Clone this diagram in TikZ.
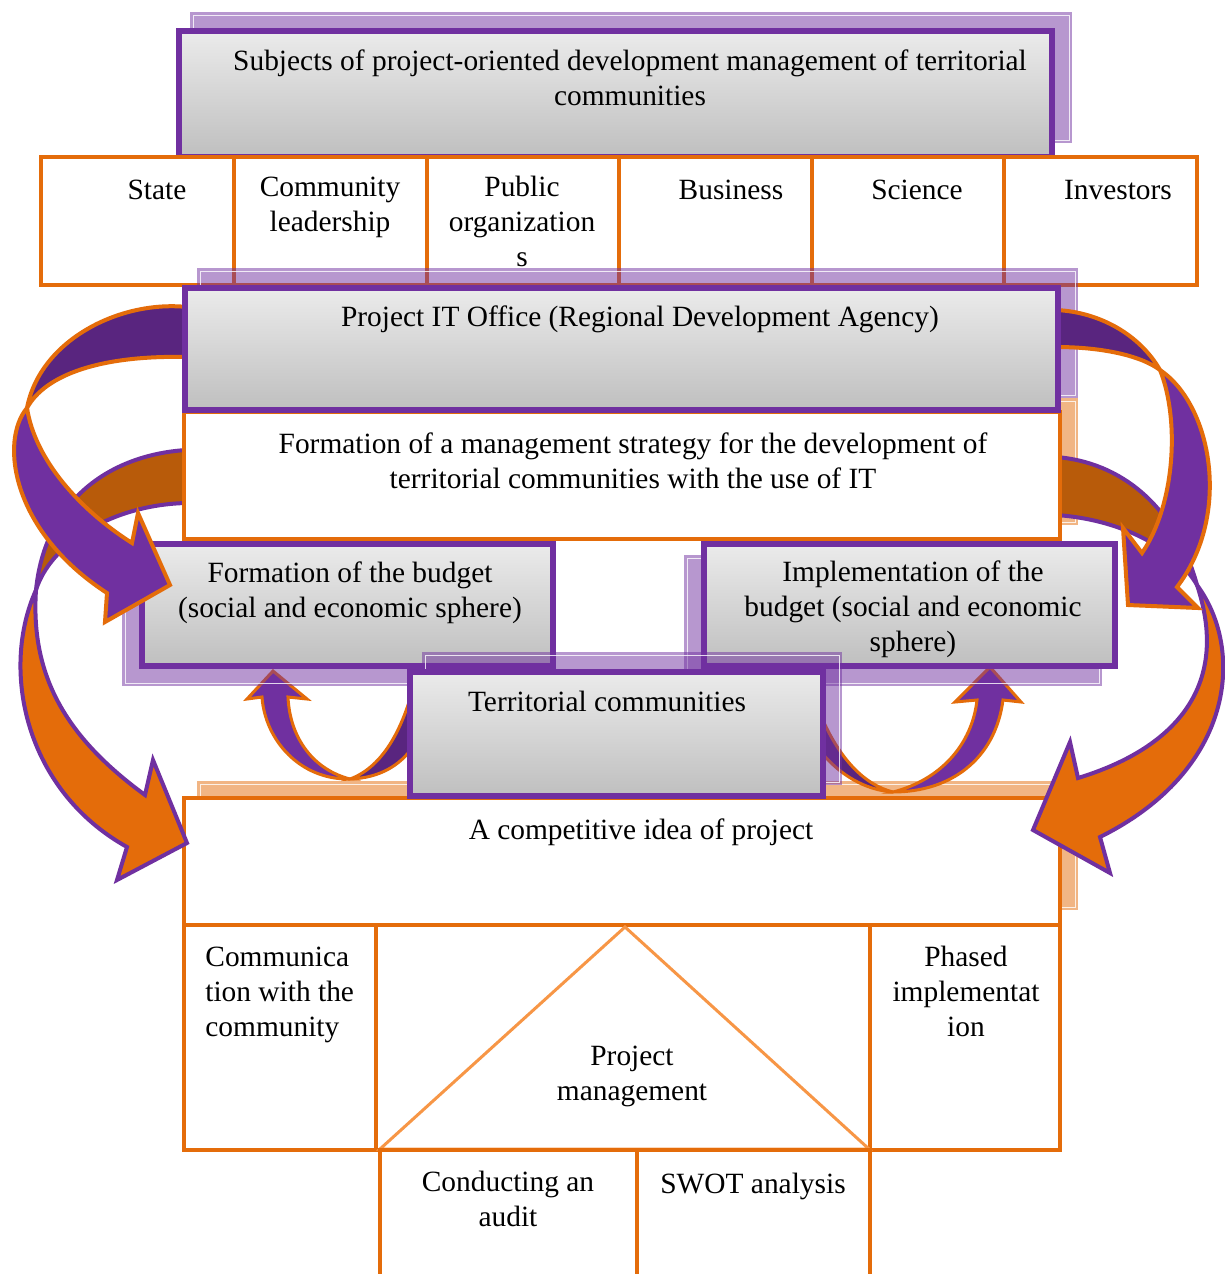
\documentclass[tikz,border=0pt]{standalone}
\usepackage{fontspec}
\setmainfont{Liberation Serif}
\definecolor{pur}{HTML}{7030A0}
\definecolor{dpur}{HTML}{59257F}
\definecolor{org}{HTML}{E46C0A}
\definecolor{dorg}{HTML}{B85B0A}
\definecolor{lorg}{HTML}{F79646}
\definecolor{gtop}{HTML}{EBEBEB}
\definecolor{gbot}{HTML}{BFBFBF}
\newcommand\mkbox[6]{%
  \pgfmathsetmacro\mbw{(#5-#3)*0.5}%
  \pgfmathsetmacro\mbh{(#6-#4)*0.5}%
  \node[#2, minimum width=\mbw pt, minimum height=\mbh pt] (#1) at ({(#3+#5)/2},{(#4+#6)/2}) {};}
\newcommand\shad[5]{%
  \fill[#1] (#2,#3) rectangle (#4,#5);
  \draw[white, line width=0.5pt, opacity=0.8] (#2+3,#3+3) rectangle (#4-3,#5-3);}
\tikzset{
  pbox/.style={draw=pur, line width=3pt, top color=gtop, bottom color=gbot, inner sep=0pt, outer sep=0pt},
  obox/.style={draw=org, line width=2pt, fill=white, inner sep=0pt, outer sep=0pt},
  openbox/.style={draw=org, line width=2pt, inner sep=0pt, outer sep=0pt},
  pshad/.style={fill=pur, fill opacity=0.5},
  oshad/.style={fill=org, fill opacity=0.5},
  parrow/.style={fill=pur, draw=org, line width=2pt, line join=miter},
  parrowb/.style={fill=dpur, draw=org, line width=2pt, line join=miter},
  oarrow/.style={fill=org, draw=pur, line width=2pt, line join=miter},
  oarrowb/.style={fill=dorg, draw=pur, line width=2pt, line join=miter},
  txt/.style={font=\fontsize{14.7}{17.4}\selectfont, align=center, inner sep=0pt, anchor=base},
  ltxt/.style={font=\fontsize{14.7}{17.4}\selectfont, align=left, inner sep=0pt, anchor=base west}
}
\begin{document}
\begin{tikzpicture}[x=0.5pt,y=-0.5pt]
\useasboundingbox (0,0) rectangle (1225,1274);
\fill[white] (0,0) rectangle (1225,1274);

% subjects
\shad{pshad}{190}{12}{1072}{143}
\mkbox{subj}{pbox}{179}{31}{1052}{157}
\node[txt] (tsubj) at (630,105) {Subjects of project-oriented development management of territorial\\communities};

% six subject boxes
\mkbox{b1}{obox}{41}{157}{234}{285}
\mkbox{b2}{obox}{234}{157}{427}{285}
\mkbox{b3}{obox}{427}{157}{619}{285}
\mkbox{b4}{obox}{619}{157}{812}{285}
\mkbox{b5}{obox}{812}{157}{1004}{285}
\mkbox{b6}{obox}{1004}{157}{1197}{285}
\node[txt] (t1) at (157,199) {State};
\node[txt] (t2) at (330,231) {Community\\leadership};
\node[txt] (t3) at (522,266) {Public\\organization\\s};
\node[txt] (t4) at (731,199) {Business};
\node[txt] (t5) at (917,199) {Science};
\node[txt] (t6) at (1118,199) {Investors};

% shadows of office / strategy
\shad{pshad}{197}{268}{1078}{398}
\shad{oshad}{197}{398}{1078}{525}

% competitive idea
\shad{oshad}{197}{781}{1078}{910}
\mkbox{comp}{obox}{184}{798}{1060}{925}
\node[txt] (tcomp) at (641,839) {A competitive idea of project};

% bottom part
\mkbox{comm}{obox}{184}{925}{376}{1150}
\mkbox{pm}{openbox}{376}{925}{870}{1150}
\mkbox{phase}{obox}{870}{925}{1060}{1150}
\draw[lorg, line width=1.5pt, line join=miter] (625,927) -- (380,1149) -- (869,1149) -- cycle;
\mkbox{audit}{openbox}{380}{1150}{637}{1300}
\mkbox{swot}{openbox}{637}{1150}{870}{1300}
\node[ltxt] (tcomm) at (205,1036) {Communica\\tion with the\\community};
\node[txt] (tpm) at (632,1100) {Project\\management};
\node[txt] (tphase) at (966,1036) {Phased\\implementat\\ion};
\node[txt] (taudit) at (508,1226) {Conducting an\\audit};
\node[txt] (tswot) at (753,1193) {SWOT analysis};

% small U arrows
\filldraw[parrowb, line width=1.5pt] (350,779) .. controls (380,778) and (400,765) .. (412,748) -- (412,692) .. controls (400,735) and (380,768) .. (350,779) -- cycle;
\filldraw[parrow, line width=1.5pt] (350,779) .. controls (300,780) and (265,740) .. (262,697) -- (247,699) -- (273,671) -- (307,699) -- (288,697) .. controls (290,740) and (315,770) .. (350,779) -- cycle;
\filldraw[parrowb, line width=1.5pt] (893,792) .. controls (865,790) and (840,775) .. (821,752) -- (821,716) .. controls (840,760) and (865,785) .. (893,792) -- cycle;
\filldraw[parrow, line width=1.5pt] (893,792) .. controls (950,792) and (995,760) .. (1003,700) -- (1021,702) -- (990,667) -- (955,702) -- (977,700) .. controls (972,745) and (940,780) .. (893,792) -- cycle;

% budget boxes
\shad{pshad}{122}{555}{540}{686}
\shad{pshad}{684}{555}{1102}{686}
\mkbox{budf}{pbox}{142}{544}{553}{666}
\mkbox{budi}{pbox}{704}{544}{1115}{666}
\shad{pshad}{422}{652}{842}{785}

% big curved arrows
\filldraw[oarrowb] (186,450) .. controls (110,455) and (45,500) .. (36,590) .. controls (50,545) and (110,505) .. (186,503) -- cycle;
\filldraw[oarrow] (36,590) .. controls (0,670) and (25,790) .. (127,847) -- (117,880) -- (187,843) -- (153,760) -- (145,795) .. controls (70,740) and (30,680) .. (36,590) -- cycle;
\filldraw[parrowb] (187,307) .. controls (120,300) and (40,340) .. (27,408) .. controls (45,375) and (100,355) .. (187,357) -- cycle;
\filldraw[parrow] (27,408) .. controls (0,440) and (10,530) .. (107,593) -- (105,622) -- (170,585) -- (138,513) -- (132,543) .. controls (80,510) and (35,460) .. (27,408) -- cycle;
\filldraw[oarrowb] (1056,457) .. controls (1120,462) and (1175,505) .. (1197,585) .. controls (1180,555) and (1130,520) .. (1056,515) -- cycle;
\filldraw[oarrow] (1197,585) .. controls (1245,650) and (1235,770) .. (1100,837) -- (1110,873) -- (1033,830) -- (1070,742) -- (1078,778) .. controls (1170,750) and (1232,690) .. (1197,585) -- cycle;
\filldraw[parrowb] (1056,310) .. controls (1100,312) and (1140,335) .. (1160,370) .. controls (1140,355) and (1100,347) .. (1056,347) -- cycle;
\filldraw[parrow] (1160,370) .. controls (1212,405) and (1232,515) .. (1177,587) -- (1198,608) -- (1128,605) -- (1123,528) -- (1142,553) .. controls (1175,505) and (1180,420) .. (1160,370) -- cycle;

% office, strategy, territorial
\mkbox{strat}{obox}{184}{412}{1060}{539}
\mkbox{office}{pbox}{185}{288}{1058}{410}
\mkbox{terr}{pbox}{410}{672}{823}{796}

\node[txt] (toffice) at (640,326) {Project IT Office (Regional Development Agency)};
\node[txt] (tstrat) at (633,488) {Formation of a management strategy for the development of\\territorial communities with the use of IT};
\node[txt] (tbudf) at (350,617) {Formation of the budget\\(social and economic sphere)};
\node[txt] (tbudi) at (913,651) {Implementation of the\\budget (social and economic\\sphere)};
\node[txt] (tterr) at (607,711) {Territorial communities};
\end{tikzpicture}
\end{document}
